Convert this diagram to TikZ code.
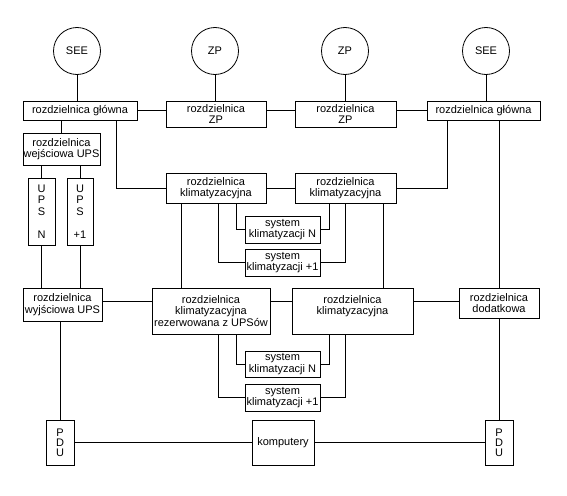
\documentclass[tikz,border=0pt]{standalone}
\usepackage{fontspec}
\setmainfont{Liberation Sans}
\tikzset{
  box/.style={draw, rectangle, inner sep=0pt, align=center, line width=0.8pt,
    font=\fontsize{11}{11.5}\selectfont},
  circ/.style={draw, circle, minimum size=47pt, inner sep=0pt, line width=0.8pt,
    font=\fontsize{11}{11.5}\selectfont},
  conn/.style={line width=0.8pt}
}
\begin{document}
\begin{tikzpicture}[x=1pt,y=-1pt]
\useasboundingbox (0,0) rectangle (567,495);
\fill[white] (0,0) rectangle (567,495);
% circles
\node[circ] (seeL) at (77,51) {SEE};
\node[circ] (zpL) at (215,51) {ZP};
\node[circ] (zpR) at (345,51) {ZP};
\node[circ] (seeR) at (486,51) {SEE};
% row 1
\node[box, minimum width=114pt, minimum height=19pt] (glL) at (80,110.5) {rozdzielnica główna};
\node[box, minimum width=100pt, minimum height=26pt] (rzpL) at (216,114) {rozdzielnica\\ZP};
\node[box, minimum width=101pt, minimum height=26pt] (rzpR) at (345.5,114) {rozdzielnica\\ZP};
\node[box, minimum width=113pt, minimum height=19pt] (glR) at (483.5,110.5) {rozdzielnica główna};
% UPS column
\node[box, minimum width=77pt, minimum height=32pt] (wej) at (61.5,149) {rozdzielnica\\wejściowa UPS};
\node[box, minimum width=27pt, minimum height=67pt] (upsN) at (41.5,211.5) {U\\P\\S\\[11.5pt]N};
\node[box, minimum width=26pt, minimum height=67pt] (ups1) at (80,211.5) {U\\P\\S\\[11.5pt]+1};
% klim upper
\node[box, minimum width=100pt, minimum height=30pt] (klim1) at (216,188) {rozdzielnica\\klimatyzacyjna};
\node[box, minimum width=101pt, minimum height=30pt] (klim2) at (345.5,188) {rozdzielnica\\klimatyzacyjna};
\node[box, minimum width=75pt, minimum height=27pt] (sysN1) at (282.5,229.5) {system\\klimatyzacji N};
\node[box, minimum width=75pt, minimum height=27pt] (sysP1) at (282.5,262.5) {system\\klimatyzacji +1};
% row 3
\node[box, minimum width=79pt, minimum height=33pt] (wyj) at (62.5,304.5) {rozdzielnica\\wyjściowa UPS};
\node[box, minimum width=118pt, minimum height=46pt] (klimRes) at (211,311) {rozdzielnica\\klimatyzacyjna\\rezerwowana z UPSów};
\node[box, minimum width=121pt, minimum height=46pt] (klim4) at (352.5,311) {rozdzielnica\\klimatyzacyjna\\\mbox{}};
\node[box, minimum width=80pt, minimum height=30pt] (dod) at (499,303) {rozdzielnica\\dodatkowa};
\node[box, minimum width=75pt, minimum height=26pt] (sysN2) at (282.5,364) {system\\klimatyzacji N};
\node[box, minimum width=75pt, minimum height=27pt] (sysP2) at (282.5,397.5) {system\\klimatyzacji +1};
% bottom
\node[box, minimum width=28pt, minimum height=45pt] (pduL) at (60,442.5) {P\\[-1.5pt]D\\[-1.5pt]U};
\node[box, minimum width=62pt, minimum height=45pt] (comp) at (283,442.5) {komputery};
\node[box, minimum width=28pt, minimum height=45pt] (pduR) at (499,442.5) {P\\[-1.5pt]D\\[-1.5pt]U};
% connectors
\draw[conn] (seeL.south) -- (seeL.south |- glL.north);
\draw[conn] (zpL.south) -- (zpL.south |- rzpL.north);
\draw[conn] (zpR.south) -- (zpR.south |- rzpR.north);
\draw[conn] (seeR.south) -- (seeR.south |- glR.north);
\draw[conn] (glL.east) -- (glL.east -| rzpL.west);
\draw[conn] (glL.east -| rzpL.east) -- (glL.east -| rzpR.west);
\draw[conn] (glL.east -| rzpR.east) -- (glR.west);
\draw[conn] (wej.north) -- (wej.north |- glL.south);
\draw[conn] (upsN.north) -- (upsN.north |- wej.south);
\draw[conn] (ups1.north) -- (ups1.north |- wej.south);
\draw[conn] (upsN.south) -- (upsN.south |- wyj.north);
\draw[conn] (ups1.south) -- (ups1.south |- wyj.north);
\draw[conn] ([xshift=36pt]glL.south) |- (klim1.west);
\draw[conn] (klim1.east) -- (klim2.west);
\draw[conn] (klim2.east) -| ([xshift=-36.5pt]glR.south);
\draw[conn] (dod.north) -- (dod.north |- glR.south);
\draw[conn] ([xshift=20pt]klim1.south) |- (sysN1.west);
\draw[conn] ([xshift=2pt]klim1.south) |- (sysP1.west);
\draw[conn] ([xshift=-16.5pt]klim2.south) |- (sysN1.east);
\draw[conn] (klim2.south) |- (sysP1.east);
\draw[conn] ([xshift=-35pt]klim1.south) -- ([xshift=-30pt]klimRes.north);
\draw[conn] ([xshift=37.5pt]klim2.south) -- ([xshift=30.5pt]klim4.north);
\draw[conn] ([yshift=3.5pt]wyj.east) -- ([yshift=3.5pt]wyj.east -| klimRes.west);
\draw[conn] ([yshift=3.5pt]wyj.east -| klimRes.east) -- ([yshift=3.5pt]wyj.east -| klim4.west);
\draw[conn] ([yshift=3.5pt]wyj.east -| klim4.east) -- ([yshift=3.5pt]wyj.east -| dod.west);
\draw[conn] ([xshift=25pt]klimRes.south) |- (sysN2.west);
\draw[conn] ([xshift=7pt]klimRes.south) |- (sysP2.west);
\draw[conn] ([xshift=-23.5pt]klim4.south) |- (sysN2.east);
\draw[conn] ([xshift=-7.5pt]klim4.south) |- (sysP2.east);
\draw[conn] (pduL.north) -- (pduL.north |- wyj.south);
\draw[conn] (pduL.east) -- (comp.west);
\draw[conn] (comp.east) -- (pduR.west);
\draw[conn] (dod.south) -- (pduR.north);
\end{tikzpicture}
\end{document}
